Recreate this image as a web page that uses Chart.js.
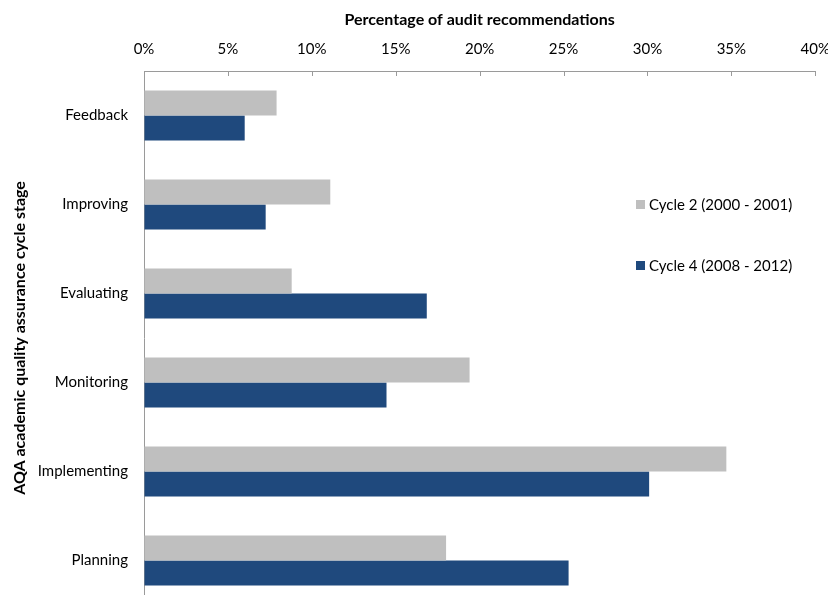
<!DOCTYPE html>
<html>
<head>
<meta charset="utf-8">
<script src="https://cdn.jsdelivr.net/npm/chart.js@4.4.1/dist/chart.umd.min.js"></script>
<style>
  html, body { margin: 0; padding: 0; background: #fff; overflow: hidden; }
  #wrap { width: 828px; height: 595px; overflow: hidden; }
</style>
</head>
<body>
<div id="wrap"><canvas id="c" width="843" height="630"></canvas></div>
<script>
// AQA cycle stages and share of audit recommendations (%)
const stages = ['Feedback', 'Improving', 'Evaluating', 'Monitoring', 'Implementing', 'Planning'];
const cycle2 = [7.9, 11.1, 8.8, 19.4, 34.7, 18.0];
const cycle4 = [6.0, 7.25, 16.85, 14.45, 30.1, 25.3];
const seriesNames = ['Cycle 2 (2000 - 2001)', 'Cycle 4 (2008 - 2012)'];
const xTicks = [0, 5, 10, 15, 20, 25, 30, 35, 40];

const FONT = 'Lato, "Open Sans", sans-serif';
const AXIS_GREY = '#9a9a9a';

// short tick marks pointing into the plot from the top axis line
const innerTicks = {
  id: 'innerTicks',
  afterDatasetsDraw(chart) {
    const { ctx, chartArea, scales } = chart;
    ctx.save();
    ctx.strokeStyle = AXIS_GREY;
    ctx.lineWidth = 1;
    ctx.beginPath();
    xTicks.forEach(v => {
      const x = Math.round(scales.x.getPixelForValue(v)) + 0.5;
      ctx.moveTo(x, chartArea.top);
      ctx.lineTo(x, chartArea.top + 5);
    });
    ctx.stroke();
    ctx.restore();
  }
};

// legend drawn inside the plot on the right
const sideLegend = {
  id: 'sideLegend',
  afterDraw(chart) {
    const { ctx } = chart;
    const x = chart.scales.x.getPixelForValue(29.3);
    const rows = [205, 266];
    ctx.save();
    ctx.font = '15px ' + FONT;
    ctx.textBaseline = 'middle';
    ctx.textAlign = 'left';
    chart.data.datasets.forEach((ds, i) => {
      ctx.fillStyle = ds.backgroundColor;
      ctx.fillRect(Math.round(x), rows[i] - 5, 9, 9);
      ctx.fillStyle = '#000';
      ctx.fillText(ds.label, Math.round(x) + 13, rows[i]);
    });
    ctx.restore();
  }
};

new Chart(document.getElementById('c'), {
  type: 'bar',
  data: {
    labels: stages,
    datasets: [
      { label: seriesNames[0], data: cycle2, backgroundColor: '#bfbfbf' },
      { label: seriesNames[1], data: cycle4, backgroundColor: '#1f497d' }
    ]
  },
  options: {
    indexAxis: 'y',
    responsive: false,
    animation: false,
    layout: { padding: 0 },
    datasets: { bar: { categoryPercentage: 0.5625, barPercentage: 1.0 } },
    plugins: { legend: { display: false }, tooltip: { enabled: false } },
    scales: {
      x: {
        position: 'top',
        min: 0, max: 40,
        afterBuildTicks: s => { s.ticks = xTicks.map(v => ({ value: v })); },
        afterFit: s => { s.height = 71; },
        ticks: {
          color: '#000',
          font: { family: FONT, size: 15 },
          padding: 13,
          callback: v => v + '%'
        },
        grid: { drawOnChartArea: false, drawTicks: false },
        border: { color: AXIS_GREY, width: 1 },
        title: {
          display: true,
          text: 'Percentage of audit recommendations',
          color: '#000',
          font: { family: FONT, size: 16, weight: 'bold' },
          padding: { top: 10, bottom: 0 }
        }
      },
      y: {
        afterFit: s => { s.width = 144; },
        ticks: {
          color: '#000',
          font: { family: FONT, size: 15 },
          padding: 16
        },
        grid: { drawOnChartArea: false, drawTicks: false },
        border: { color: AXIS_GREY, width: 1 },
        title: {
          display: true,
          text: 'AQA academic quality assurance cycle stage',
          color: '#000',
          font: { family: FONT, size: 16, weight: 'bold' },
          padding: { top: 10, bottom: 0 }
        }
      }
    }
  },
  plugins: [innerTicks, sideLegend]
});
</script>
</body>
</html>
